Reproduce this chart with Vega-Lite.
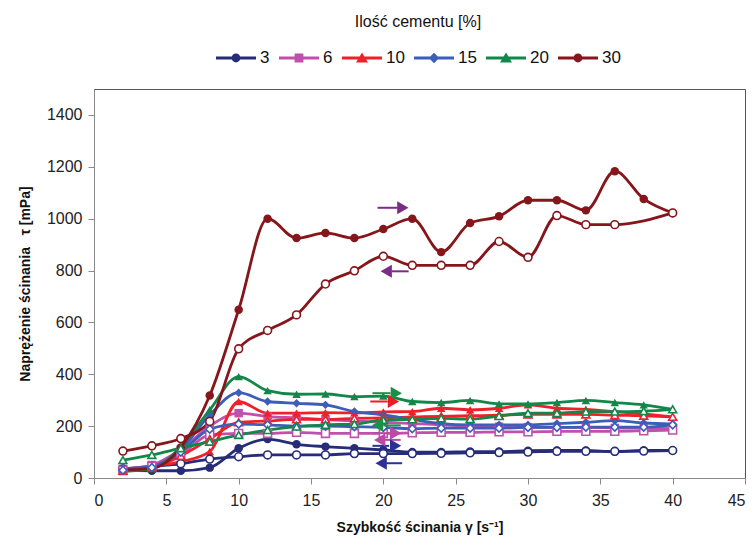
{
  "$schema": "https://vega.github.io/schema/vega-lite/v6.json",
  "width": 651,
  "height": 389,
  "autosize": "none",
  "padding": {"left": 94, "top": 89, "right": 11, "bottom": 70},
  "background": "white",
  "config": {
    "font": "Liberation Sans",
    "view": {"stroke": "#555555", "strokeWidth": 1},
    "axis": {"grid": false, "domainColor": "#8a8a8a", "tickColor": "#8a8a8a", "tickSize": 6, "labelColor": "#222222", "labelFontSize": 16, "titleColor": "#111111", "titleFontSize": 14, "titleFontWeight": "bold"}
  },
  "datasets": {
    "curves": [
      {"s":"3","d":"u","x":2,"v":30},{"s":"3","d":"u","x":4,"v":28},{"s":"3","d":"u","x":6,"v":28},{"s":"3","d":"u","x":8,"v":40},{"s":"3","d":"u","x":10,"v":115},{"s":"3","d":"u","x":12,"v":150},{"s":"3","d":"u","x":14,"v":130},{"s":"3","d":"u","x":16,"v":121},{"s":"3","d":"u","x":18,"v":115},{"s":"3","d":"u","x":20,"v":108},{"s":"3","d":"u","x":22,"v":100},{"s":"3","d":"u","x":24,"v":100},{"s":"3","d":"u","x":26,"v":102},{"s":"3","d":"u","x":28,"v":102},{"s":"3","d":"u","x":30,"v":105},{"s":"3","d":"u","x":32,"v":106},{"s":"3","d":"u","x":34,"v":106},{"s":"3","d":"u","x":36,"v":101},{"s":"3","d":"u","x":38,"v":106},{"s":"3","d":"u","x":40,"v":106},
      {"s":"3","d":"d","x":2,"v":35},{"s":"3","d":"d","x":4,"v":45},{"s":"3","d":"d","x":6,"v":55},{"s":"3","d":"d","x":8,"v":73},{"s":"3","d":"d","x":10,"v":82},{"s":"3","d":"d","x":12,"v":89},{"s":"3","d":"d","x":14,"v":89},{"s":"3","d":"d","x":16,"v":89},{"s":"3","d":"d","x":18,"v":94},{"s":"3","d":"d","x":20,"v":94},{"s":"3","d":"d","x":22,"v":94},{"s":"3","d":"d","x":24,"v":95},{"s":"3","d":"d","x":26,"v":97},{"s":"3","d":"d","x":28,"v":98},{"s":"3","d":"d","x":30,"v":100},{"s":"3","d":"d","x":32,"v":103},{"s":"3","d":"d","x":34,"v":103},{"s":"3","d":"d","x":36,"v":103},{"s":"3","d":"d","x":38,"v":104},{"s":"3","d":"d","x":40,"v":106},
      {"s":"6","d":"u","x":2,"v":35},{"s":"6","d":"u","x":4,"v":50},{"s":"6","d":"u","x":6,"v":110},{"s":"6","d":"u","x":8,"v":200},{"s":"6","d":"u","x":10,"v":250},{"s":"6","d":"u","x":12,"v":237},{"s":"6","d":"u","x":14,"v":232},{"s":"6","d":"u","x":16,"v":225},{"s":"6","d":"u","x":18,"v":220},{"s":"6","d":"u","x":20,"v":215},{"s":"6","d":"u","x":22,"v":210},{"s":"6","d":"u","x":24,"v":205},{"s":"6","d":"u","x":26,"v":200},{"s":"6","d":"u","x":28,"v":198},{"s":"6","d":"u","x":30,"v":196},{"s":"6","d":"u","x":32,"v":195},{"s":"6","d":"u","x":34,"v":195},{"s":"6","d":"u","x":36,"v":193},{"s":"6","d":"u","x":38,"v":192},{"s":"6","d":"u","x":40,"v":190},
      {"s":"6","d":"d","x":2,"v":30},{"s":"6","d":"d","x":4,"v":45},{"s":"6","d":"d","x":6,"v":90},{"s":"6","d":"d","x":8,"v":166},{"s":"6","d":"d","x":10,"v":172},{"s":"6","d":"d","x":12,"v":172},{"s":"6","d":"d","x":14,"v":176},{"s":"6","d":"d","x":16,"v":172},{"s":"6","d":"d","x":18,"v":172},{"s":"6","d":"d","x":20,"v":172},{"s":"6","d":"d","x":22,"v":174},{"s":"6","d":"d","x":24,"v":176},{"s":"6","d":"d","x":26,"v":176},{"s":"6","d":"d","x":28,"v":178},{"s":"6","d":"d","x":30,"v":178},{"s":"6","d":"d","x":32,"v":180},{"s":"6","d":"d","x":34,"v":180},{"s":"6","d":"d","x":36,"v":180},{"s":"6","d":"d","x":38,"v":182},{"s":"6","d":"d","x":40,"v":185},
      {"s":"10","d":"u","x":2,"v":32},{"s":"10","d":"u","x":4,"v":45},{"s":"10","d":"u","x":6,"v":63},{"s":"10","d":"u","x":8,"v":102},{"s":"10","d":"u","x":10,"v":295},{"s":"10","d":"u","x":12,"v":250},{"s":"10","d":"u","x":14,"v":250},{"s":"10","d":"u","x":16,"v":252},{"s":"10","d":"u","x":18,"v":251},{"s":"10","d":"u","x":20,"v":255},{"s":"10","d":"u","x":22,"v":256},{"s":"10","d":"u","x":24,"v":269},{"s":"10","d":"u","x":26,"v":263},{"s":"10","d":"u","x":28,"v":269},{"s":"10","d":"u","x":30,"v":282},{"s":"10","d":"u","x":32,"v":269},{"s":"10","d":"u","x":34,"v":265},{"s":"10","d":"u","x":36,"v":256},{"s":"10","d":"u","x":38,"v":247},{"s":"10","d":"u","x":40,"v":236},
      {"s":"10","d":"d","x":2,"v":28},{"s":"10","d":"d","x":4,"v":40},{"s":"10","d":"d","x":6,"v":85},{"s":"10","d":"d","x":8,"v":150},{"s":"10","d":"d","x":10,"v":215},{"s":"10","d":"d","x":12,"v":220},{"s":"10","d":"d","x":14,"v":226},{"s":"10","d":"d","x":16,"v":226},{"s":"10","d":"d","x":18,"v":230},{"s":"10","d":"d","x":20,"v":232},{"s":"10","d":"d","x":22,"v":235},{"s":"10","d":"d","x":24,"v":238},{"s":"10","d":"d","x":26,"v":240},{"s":"10","d":"d","x":28,"v":242},{"s":"10","d":"d","x":30,"v":245},{"s":"10","d":"d","x":32,"v":245},{"s":"10","d":"d","x":34,"v":245},{"s":"10","d":"d","x":36,"v":242},{"s":"10","d":"d","x":38,"v":240},{"s":"10","d":"d","x":40,"v":236},
      {"s":"15","d":"u","x":2,"v":35},{"s":"15","d":"u","x":4,"v":45},{"s":"15","d":"u","x":6,"v":110},{"s":"15","d":"u","x":8,"v":243},{"s":"15","d":"u","x":10,"v":329},{"s":"15","d":"u","x":12,"v":295},{"s":"15","d":"u","x":14,"v":288},{"s":"15","d":"u","x":16,"v":282},{"s":"15","d":"u","x":18,"v":256},{"s":"15","d":"u","x":20,"v":243},{"s":"15","d":"u","x":22,"v":226},{"s":"15","d":"u","x":24,"v":210},{"s":"15","d":"u","x":26,"v":205},{"s":"15","d":"u","x":28,"v":205},{"s":"15","d":"u","x":30,"v":205},{"s":"15","d":"u","x":32,"v":210},{"s":"15","d":"u","x":34,"v":215},{"s":"15","d":"u","x":36,"v":221},{"s":"15","d":"u","x":38,"v":212},{"s":"15","d":"u","x":40,"v":208},
      {"s":"15","d":"d","x":2,"v":30},{"s":"15","d":"d","x":4,"v":40},{"s":"15","d":"d","x":6,"v":100},{"s":"15","d":"d","x":8,"v":188},{"s":"15","d":"d","x":10,"v":208},{"s":"15","d":"d","x":12,"v":205},{"s":"15","d":"d","x":14,"v":200},{"s":"15","d":"d","x":16,"v":200},{"s":"15","d":"d","x":18,"v":198},{"s":"15","d":"d","x":20,"v":195},{"s":"15","d":"d","x":22,"v":190},{"s":"15","d":"d","x":24,"v":192},{"s":"15","d":"d","x":26,"v":192},{"s":"15","d":"d","x":28,"v":192},{"s":"15","d":"d","x":30,"v":195},{"s":"15","d":"d","x":32,"v":195},{"s":"15","d":"d","x":34,"v":196},{"s":"15","d":"d","x":36,"v":196},{"s":"15","d":"d","x":38,"v":196},{"s":"15","d":"d","x":40,"v":205},
      {"s":"20","d":"u","x":2,"v":25},{"s":"20","d":"u","x":4,"v":35},{"s":"20","d":"u","x":6,"v":120},{"s":"20","d":"u","x":8,"v":263},{"s":"20","d":"u","x":10,"v":391},{"s":"20","d":"u","x":12,"v":337},{"s":"20","d":"u","x":14,"v":323},{"s":"20","d":"u","x":16,"v":324},{"s":"20","d":"u","x":18,"v":314},{"s":"20","d":"u","x":20,"v":316},{"s":"20","d":"u","x":22,"v":295},{"s":"20","d":"u","x":24,"v":291},{"s":"20","d":"u","x":26,"v":299},{"s":"20","d":"u","x":28,"v":286},{"s":"20","d":"u","x":30,"v":286},{"s":"20","d":"u","x":32,"v":291},{"s":"20","d":"u","x":34,"v":299},{"s":"20","d":"u","x":36,"v":291},{"s":"20","d":"u","x":38,"v":282},{"s":"20","d":"u","x":40,"v":265},
      {"s":"20","d":"d","x":2,"v":69},{"s":"20","d":"d","x":4,"v":89},{"s":"20","d":"d","x":6,"v":115},{"s":"20","d":"d","x":8,"v":140},{"s":"20","d":"d","x":10,"v":166},{"s":"20","d":"d","x":12,"v":185},{"s":"20","d":"d","x":14,"v":198},{"s":"20","d":"d","x":16,"v":205},{"s":"20","d":"d","x":18,"v":208},{"s":"20","d":"d","x":20,"v":224},{"s":"20","d":"d","x":22,"v":226},{"s":"20","d":"d","x":24,"v":230},{"s":"20","d":"d","x":26,"v":227},{"s":"20","d":"d","x":28,"v":239},{"s":"20","d":"d","x":30,"v":250},{"s":"20","d":"d","x":32,"v":250},{"s":"20","d":"d","x":34,"v":256},{"s":"20","d":"d","x":36,"v":256},{"s":"20","d":"d","x":38,"v":258},{"s":"20","d":"d","x":40,"v":265},
      {"s":"30","d":"u","x":2,"v":31},{"s":"30","d":"u","x":4,"v":37},{"s":"30","d":"u","x":6,"v":118},{"s":"30","d":"u","x":8,"v":318},{"s":"30","d":"u","x":10,"v":649},{"s":"30","d":"u","x":12,"v":1000},{"s":"30","d":"u","x":14,"v":925},{"s":"30","d":"u","x":16,"v":945},{"s":"30","d":"u","x":18,"v":925},{"s":"30","d":"u","x":20,"v":960},{"s":"30","d":"u","x":22,"v":1000},{"s":"30","d":"u","x":24,"v":871},{"s":"30","d":"u","x":26,"v":983},{"s":"30","d":"u","x":28,"v":1009},{"s":"30","d":"u","x":30,"v":1071},{"s":"30","d":"u","x":32,"v":1071},{"s":"30","d":"u","x":34,"v":1032},{"s":"30","d":"u","x":36,"v":1183},{"s":"30","d":"u","x":38,"v":1076},{"s":"30","d":"u","x":40,"v":1022},
      {"s":"30","d":"d","x":2,"v":104},{"s":"30","d":"d","x":4,"v":124},{"s":"30","d":"d","x":6,"v":152},{"s":"30","d":"d","x":8,"v":218},{"s":"30","d":"d","x":10,"v":498},{"s":"30","d":"d","x":12,"v":569},{"s":"30","d":"d","x":14,"v":629},{"s":"30","d":"d","x":16,"v":748},{"s":"30","d":"d","x":18,"v":799},{"s":"30","d":"d","x":20,"v":855},{"s":"30","d":"d","x":22,"v":820},{"s":"30","d":"d","x":24,"v":820},{"s":"30","d":"d","x":26,"v":820},{"s":"30","d":"d","x":28,"v":912},{"s":"30","d":"d","x":30,"v":851},{"s":"30","d":"d","x":32,"v":1012},{"s":"30","d":"d","x":34,"v":977},{"s":"30","d":"d","x":36,"v":977},{"s":"30","d":"d","x":40,"v":1022}
    ],
    "arrows": [
      {"s":"30","x1":19.6,"x2":21.0,"y":1042,"hx":21.35,"dir":"r"},
      {"s":"30","x1":20.6,"x2":21.75,"y":797,"hx":20.2,"dir":"l"},
      {"s":"20","x1":19.25,"x2":20.5,"y":327,"hx":20.9,"dir":"r"},
      {"s":"10","x1":19.1,"x2":20.3,"y":295,"hx":20.7,"dir":"r"},
      {"s":"20","x1":20.0,"x2":21.2,"y":203,"hx":19.6,"dir":"l"},
      {"s":"6","x1":19.25,"x2":20.4,"y":173,"hx":20.85,"dir":"r"},
      {"s":"6","x1":20.1,"x2":21.2,"y":147,"hx":19.75,"dir":"l"},
      {"s":"3","x1":19.25,"x2":20.4,"y":124,"hx":20.85,"dir":"r"},
      {"s":"3","x1":20.2,"x2":21.3,"y":57,"hx":19.85,"dir":"l"}
    ]
  },
  "encoding": {
    "x": {"field": "x", "type": "quantitative", "scale": {"domain": [0, 45], "nice": false},
      "axis": {"values": [0,5,10,15,20,25,30,35,40,45], "title": "Szybkość ścinania γ [s⁻¹]", "labelPadding": 8, "titlePadding": 12}},
    "y": {"field": "v", "type": "quantitative", "scale": {"domain": [0, 1500], "nice": false},
      "axis": {"values": [0,200,400,600,800,1000,1200,1400], "format": "d", "title": "Naprężenie ścinania\u00a0\u00a0\u00a0τ [mPa]", "labelPadding": 6, "titlePadding": 14}}
  },
  "layer": [
    {
      "data": {"name": "curves"},
      "mark": {"type": "line", "strokeWidth": 2.8, "interpolate": "monotone"},
      "encoding": {
        "color": {"field": "s", "type": "nominal",
          "scale": {"domain": ["3","6","10","15","20","30"], "range": ["#262C78","#C050AC","#F0202B","#3C5DB8","#13874A","#86161B"]},
          "legend": {
            "orient": "none", "legendX": 122, "legendY": -75, "direction": "horizontal",
            "title": "Ilość cementu [%]", "titleFontSize": 16, "titleFontWeight": "normal", "titleColor": "#111111",
            "titleAnchor": "middle", "titlePadding": 8,
            "labelFontSize": 17, "labelColor": "#111111", "labelOffset": 4, "columnPadding": 9,
            "symbolSize": 1600, "symbolStrokeWidth": 0,
            "encode": {"symbols": {"update": {
              "shape": {"signal": "datum.value==='6'?'M-1,-0.08H1V0.08H-1Z M-0.22,-0.22H0.22V0.22H-0.22Z':(datum.value==='10'||datum.value==='20')?'M-1,-0.08H1V0.08H-1Z M0,-0.28L0.3,0.22H-0.3Z':datum.value==='15'?'M-1,-0.08H1V0.08H-1Z M0,-0.26L0.26,0L0,0.26L-0.26,0Z':'M-1,-0.08H1V0.08H-1Z M0.22,0A0.22,0.22,0,1,1,-0.22,0A0.22,0.22,0,1,1,0.22,0Z'"},
              "fill": {"scale": "color", "field": "value"},
              "stroke": {"value": "transparent"},
              "opacity": {"value": 1}
            }}}
          }},
        "detail": {"field": "d"},
        "order": {"field": "x", "type": "quantitative"}
      }
    },
    {
      "data": {"name": "curves"},
      "transform": [{"filter": "datum.d === 'u'"}],
      "mark": {"type": "point", "filled": true, "size": 72, "opacity": 1},
      "encoding": {
        "color": {"field": "s", "type": "nominal"},
        "shape": {"field": "s", "type": "nominal", "legend": null,
          "scale": {"domain": ["30","3","6","10","15","20"], "range": ["circle","circle","square","triangle-up","diamond","triangle-up"]}}
      }
    },
    {
      "data": {"name": "curves"},
      "transform": [{"filter": "datum.d === 'd'"}],
      "mark": {"type": "point", "filled": false, "fill": "white", "fillOpacity": 1, "size": 62, "strokeWidth": 1.6, "opacity": 1},
      "encoding": {
        "color": {"field": "s", "type": "nominal"},
        "shape": {"field": "s", "type": "nominal", "legend": null}
      }
    },
    {
      "data": {"name": "arrows"},
      "mark": {"type": "rule", "strokeWidth": 2},
      "encoding": {
        "x": {"field": "x1", "type": "quantitative"},
        "x2": {"field": "x2"},
        "y": {"field": "y", "type": "quantitative"},
        "stroke": {"field": "s", "type": "nominal", "legend": null,
          "scale": {"domain": ["3","6","10","20","30"], "range": ["#2E3192","#B94AA5","#ED1C24","#1A9147","#7B2C87"]}}
      }
    },
    {
      "data": {"name": "arrows"},
      "transform": [{"filter": "datum.dir === 'r'"}],
      "mark": {"type": "point", "shape": "triangle-right", "filled": true, "size": 170, "opacity": 1},
      "encoding": {
        "x": {"field": "hx", "type": "quantitative"},
        "y": {"field": "y", "type": "quantitative"},
        "fill": {"field": "s", "type": "nominal", "legend": null,
          "scale": {"domain": ["3","6","10","20","30"], "range": ["#2E3192","#B94AA5","#ED1C24","#1A9147","#7B2C87"]}}
      }
    },
    {
      "data": {"name": "arrows"},
      "transform": [{"filter": "datum.dir === 'l'"}],
      "mark": {"type": "point", "shape": "triangle-left", "filled": true, "size": 170, "opacity": 1},
      "encoding": {
        "x": {"field": "hx", "type": "quantitative"},
        "y": {"field": "y", "type": "quantitative"},
        "fill": {"field": "s", "type": "nominal", "legend": null}
      }
    }
  ]
}
